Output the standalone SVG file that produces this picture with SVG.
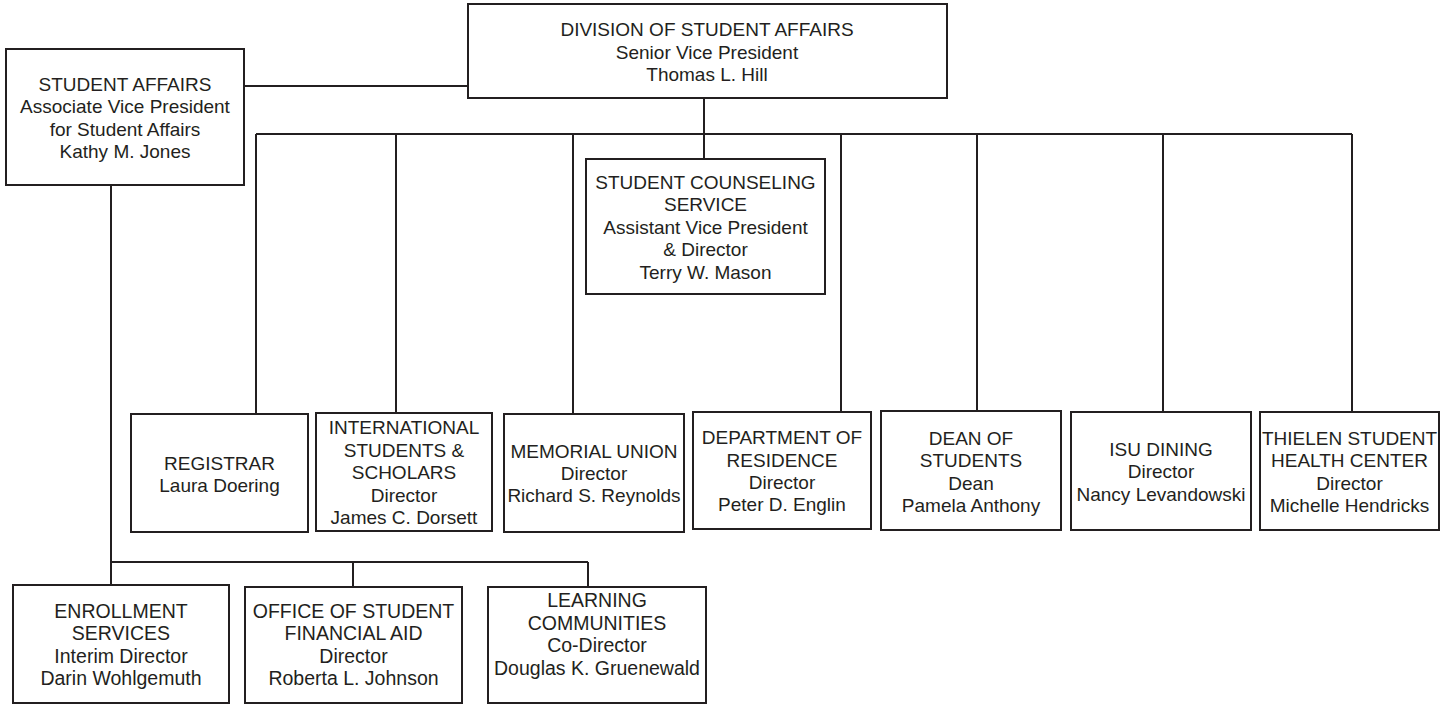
<svg xmlns="http://www.w3.org/2000/svg" width="1445" height="705" viewBox="0 0 1445 705">
<style>
.box{fill:#fff;stroke:#231f20;stroke-width:2}
.ln{fill:none;stroke:#231f20;stroke-width:2}
text{font-family:"Liberation Sans",Arial,sans-serif;font-size:19px;fill:#231f20;text-anchor:middle}
.c{font-size:19.5px}
</style>
<rect width="1445" height="705" fill="#fff"/>
<g id="connectors">
<path class="ln" d="M244 86H468"/>
<path class="ln" d="M704 98V159"/>
<path class="ln" d="M256 134H1352"/>
<path class="ln" d="M256 134V414M396 134V413M573 134V414M841 134V412M977 134V411M1163 134V412M1352 134V412"/>
<path class="ln" d="M111 185V585M111 562H588M353 562V587M588 562V587"/>
</g>
<g id="division">
<rect class="box" x="468" y="4" width="479" height="94"/>
<text x="707" y="36">DIVISION OF STUDENT AFFAIRS</text>
<text x="707" y="58.5">Senior Vice President</text>
<text x="707" y="81">Thomas L. Hill</text>
</g>
<g id="student-affairs">
<rect class="box" x="6" y="49" width="238" height="136"/>
<text x="125" y="91">STUDENT AFFAIRS</text>
<text x="125" y="113">Associate Vice President</text>
<text x="125" y="135.5">for Student Affairs</text>
<text x="125" y="158">Kathy M. Jones</text>
</g>
<g id="counseling">
<rect class="box" x="586" y="159" width="239" height="135"/>
<text x="705.5" y="188.5">STUDENT COUNSELING</text>
<text x="705.5" y="211">SERVICE</text>
<text x="705.5" y="233.5">Assistant Vice President</text>
<text x="705.5" y="256">&amp; Director</text>
<text x="705.5" y="278.5">Terry W. Mason</text>
</g>
<g id="registrar">
<rect class="box" x="131" y="414" width="177" height="118"/>
<text x="219.5" y="469.5">REGISTRAR</text>
<text x="219.5" y="492">Laura Doering</text>
</g>
<g id="international">
<rect class="box" x="316" y="413" width="176" height="118"/>
<text x="404" y="434">INTERNATIONAL</text>
<text x="404" y="456.5">STUDENTS &amp;</text>
<text x="404" y="479">SCHOLARS</text>
<text x="404" y="501.5">Director</text>
<text x="404" y="524">James C. Dorsett</text>
</g>
<g id="memorial">
<rect class="box" x="504" y="414" width="180" height="118"/>
<text x="594" y="457.5">MEMORIAL UNION</text>
<text x="594" y="480">Director</text>
<text x="594" y="502">Richard S. Reynolds</text>
</g>
<g id="residence">
<rect class="box" x="693" y="412" width="178" height="117"/>
<text x="782" y="444">DEPARTMENT OF</text>
<text x="782" y="466.5">RESIDENCE</text>
<text x="782" y="488.5">Director</text>
<text x="782" y="510.5">Peter D. Englin</text>
</g>
<g id="dean">
<rect class="box" x="881" y="411" width="180" height="119"/>
<text x="971" y="444.5">DEAN OF</text>
<text x="971" y="467">STUDENTS</text>
<text x="971" y="489.5">Dean</text>
<text x="971" y="511.5">Pamela Anthony</text>
</g>
<g id="dining">
<rect class="box" x="1071" y="412" width="180" height="118"/>
<text x="1161" y="456">ISU DINING</text>
<text x="1161" y="478">Director</text>
<text x="1161" y="500.5">Nancy Levandowski</text>
</g>
<g id="thielen">
<rect class="box" x="1260" y="412" width="179" height="118"/>
<text x="1349.5" y="444.5">THIELEN STUDENT</text>
<text x="1349.5" y="467">HEALTH CENTER</text>
<text x="1349.5" y="489.5">Director</text>
<text x="1349.5" y="511.5">Michelle Hendricks</text>
</g>
<g id="enrollment">
<rect class="box" x="13" y="585" width="216" height="118"/>
<text class="c" x="121" y="617.5">ENROLLMENT</text>
<text class="c" x="121" y="640">SERVICES</text>
<text class="c" x="121" y="662.5">Interim Director</text>
<text class="c" x="121" y="685">Darin Wohlgemuth</text>
</g>
<g id="financial-aid">
<rect class="box" x="245" y="587" width="217" height="116"/>
<text class="c" x="353.5" y="617.5">OFFICE OF STUDENT</text>
<text class="c" x="353.5" y="640">FINANCIAL AID</text>
<text class="c" x="353.5" y="662.5">Director</text>
<text class="c" x="353.5" y="685">Roberta L. Johnson</text>
</g>
<g id="learning">
<rect class="box" x="488" y="587" width="218" height="116"/>
<text class="c" x="597" y="607">LEARNING</text>
<text class="c" x="597" y="629.5">COMMUNITIES</text>
<text class="c" x="597" y="652">Co-Director</text>
<text class="c" x="597" y="674.5">Douglas K. Gruenewald</text>
</g>
</svg>
